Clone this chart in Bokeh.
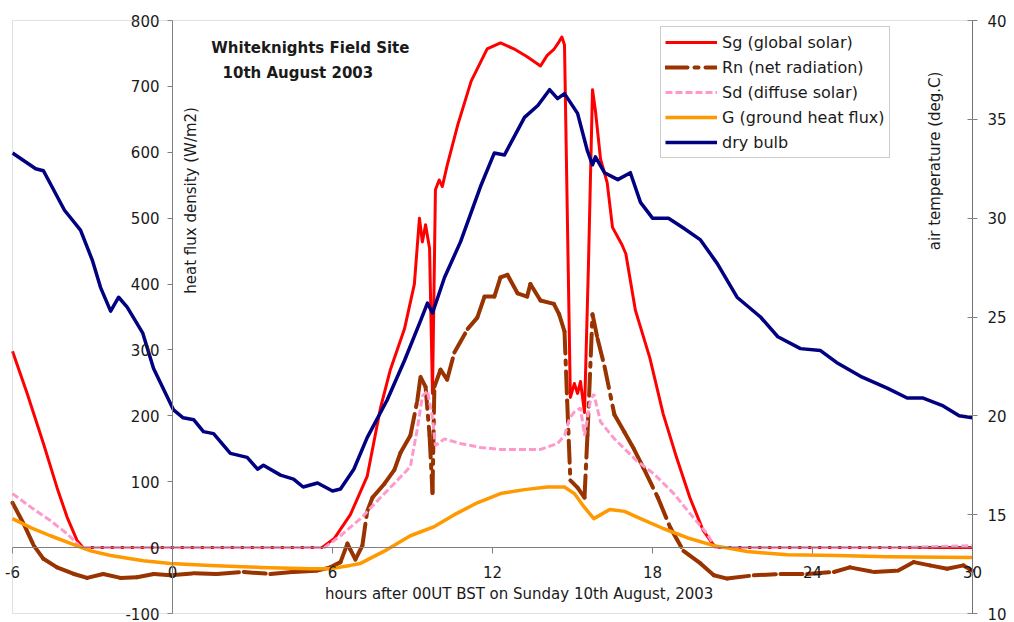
import math
from bokeh.plotting import figure
from bokeh.models import LinearAxis, Range1d, FixedTicker, Legend, LegendItem, Label, BoxAnnotation
from bokeh.embed import file_html
from bokeh.resources import INLINE

# ---------------- data ----------------
sg_h = [-6, -5.45, -4.84, -4.33, -3.95, -3.58, -3.35, 0, 3, 5.6, 6.07, 6.67, 7.3, 7.55, 7.8, 8.17, 8.7,
        9.07, 9.26, 9.37, 9.49, 9.64, 9.75, 9.86, 10.0, 10.12, 10.3, 10.7, 11.2, 11.8, 12.3, 12.8, 13.3,
        13.8, 14.05, 14.3, 14.5, 14.6, 14.7, 14.92, 15.07, 15.19, 15.3, 15.45, 15.6, 15.75, 15.86, 16.05,
        16.3, 16.5, 16.85, 17.0, 17.36, 17.9, 18.4, 18.9, 19.4, 19.9, 20.25, 20.4, 24, 27, 30]
sg_v = [298, 234, 158, 91, 46, 11, 0, 0, 0, 0, 14, 50, 108, 160, 212, 270, 332,
        400, 500, 464, 490, 454, 234, 543, 558, 548, 580, 642, 708, 757, 766, 757, 745,
        731, 747, 756, 768, 775, 763, 228, 249, 234, 252, 205, 432, 695, 663, 590,
        554, 486, 460, 446, 360, 288, 203, 137, 76, 26, 6, 0, 0, 0, 0]

rn_h = [-6, -5.58, -5.2, -4.84, -4.33, -3.7, -3.2, -2.6, -1.95, -1.33, -0.7, -0.08, 0.8, 1.67, 2.67,
        3.67, 4.54, 5.43, 5.92, 6.3, 6.56, 6.67, 6.86, 7.12, 7.3, 7.5, 7.95, 8.32, 8.55, 8.92, 9.18, 9.3,
        9.49, 9.64, 9.75, 9.82, 10.05, 10.3, 10.57, 11.07, 11.43, 11.7, 12.07, 12.3, 12.56, 12.94, 13.3,
        13.42, 13.8, 14.3, 14.5, 14.7, 14.8, 14.92, 15.19, 15.45, 15.56, 15.75, 15.94, 16.2, 16.57, 16.95,
        17.3, 17.66, 18.2, 18.67, 19.16, 19.8, 20.3, 20.8, 21.8, 22.8, 23.8, 24.8, 25.4, 26.3, 27.2, 27.8,
        28.4, 29.05, 29.66, 30]
rn_v = [68, 36, 3, -17, -30, -40, -46, -40, -46, -45, -40, -42, -39, -40, -37,
        -40, -37, -35, -30, -22, 6, -3, -18, 3, 55, 76, 97, 118, 144, 170, 223, 259,
        244, 170, 83, 244, 270, 255, 296, 332, 349, 381, 381, 410, 414, 386, 381,
        400, 375, 370, 354, 328, 223, 102, 91, 76, 170, 354, 317, 275, 202, 175,
        150, 121, 76, 30, -5, -24, -42, -47, -42, -40, -40, -37, -30, -37, -35, -22,
        -27, -32, -27, -35]

sd_h = [-6, -5.3, -4.58, -3.95, -3.5, -3.4, 0, 3, 5.7, 6.3, 7.05, 7.8, 8.43, 8.92, 9.18, 9.37, 9.56,
        9.75, 9.86, 10.2, 10.8, 11.55, 12.3, 13.05, 13.8, 14.44, 14.7, 14.9, 15.07, 15.3, 15.45, 15.67,
        15.8, 16.05, 16.57, 17.0, 17.4, 18.05, 18.8, 19.4, 20.05, 20.35, 24, 27, 30]
sd_v = [82, 61, 41, 21, 3, 0, 0, 0, 0, 18, 44, 76, 102, 123, 180, 230, 238,
        197, 155, 165, 158, 152, 149, 149, 149, 158, 170, 197, 206, 212, 170, 223,
        233, 191, 165, 148, 132, 112, 82, 52, 21, 0, 0, 0, 3]

g_h = [-6, -5.3, -4.58, -3.8, -3.07, -2.32, -1.09, -0.08, 1.42, 3.3, 5.17, 5.9, 6.67, 7.05, 8.05,
       8.92, 9.82, 10.57, 11.43, 12.3, 13.2, 14.06, 14.7, 15.07, 15.45, 15.8, 16.4, 16.95, 17.55, 18.4,
       19.3, 20.3, 21.55, 23.05, 24.9, 26.8, 30]
g_v = [44, 30, 18, 6, -5, -12, -20, -24, -27, -30, -32, -32, -27, -24, -3,
       18, 32, 50, 68, 82, 88, 92, 92, 82, 61, 44, 58, 55, 44, 29,
       15, 3, -6, -11, -12, -14, -15]

db_h = [-6, -5.13, -4.84, -4.05, -3.45, -3.0, -2.7, -2.32, -2.02, -1.7, -1.12, -0.71, 0.04, 0.4, 0.8,
        1.16, 1.54, 2.17, 2.8, 3.19, 3.41, 4.05, 4.54, 4.9, 5.44, 6.0, 6.3, 6.8, 7.3, 8.05, 8.7, 9.3,
        9.56, 9.75, 10.2, 10.8, 11.55, 12.07, 12.45, 13.2, 13.7, 14.14, 14.44, 14.7, 15.19, 15.56, 15.75,
        15.86, 16.2, 16.7, 17.17, 17.55, 18.0, 18.6, 19.16, 19.8, 20.43, 21.17, 22.05, 22.7, 23.55, 24.3,
        24.9, 25.8, 26.8, 27.55, 28.15, 28.9, 29.5, 30]
db_t = [33.3, 32.5, 32.4, 30.4, 29.4, 27.85, 26.5, 25.3, 26.0, 25.5, 24.2, 22.4, 20.3, 19.9, 19.8,
        19.2, 19.1, 18.1, 17.9, 17.3, 17.5, 17.0, 16.8, 16.4, 16.6, 16.2, 16.3, 17.3, 18.9, 20.8, 22.8, 24.8,
        25.7, 25.2, 27.0, 28.8, 31.6, 33.3, 33.2, 35.1, 35.7, 36.5, 36.05, 36.3, 35.3, 33.4, 32.7,
        33.1, 32.3, 31.95, 32.3, 30.8, 30.0, 30.0, 29.5, 28.9, 27.7, 26.0, 25.0, 24.0, 23.4, 23.3,
        22.7, 22.0, 21.4, 20.9, 20.9, 20.5, 20.0, 19.9]

x_ticks = [-6, 0, 6, 12, 18, 24, 30]
y_ticks = [-100, 0, 100, 200, 300, 400, 500, 600, 700, 800]
t_ticks = [10, 15, 20, 25, 30, 35, 40]

labels = ["Sg (global solar)", "Rn (net radiation)", "Sd (diffuse solar)",
          "G (ground heat flux)", "dry bulb"]
colors = ["#ff0000", "#993300", "#ff99cc", "#ff9900", "#000080"]

FONT = "DejaVu Sans"
TXT = "#1a1a1a"

# plot area of the reference: hours -6..30, W/m2 -100..800, deg C 10..40
XMIN, XMAX = x_ticks[0], x_ticks[-1]
YMIN, YMAX = y_ticks[0], y_ticks[-1]
TMIN, TMAX = t_ticks[0], t_ticks[-1]
W, H = 1014, 622
L_PX, R_PX, T_PX, B_PX = 12, 972, 20, 613   # where the plot area sits on the page
xs = (XMAX - XMIN) / (R_PX - L_PX)
ys = (YMAX - YMIN) / (B_PX - T_PX)
ts = (TMAX - TMIN) / (B_PX - T_PX)

# frame covers the whole page so that edge tick labels are not clipped
p = figure(width=W, height=H,
           x_range=Range1d(XMIN - L_PX * xs, XMAX + (W - R_PX) * xs),
           y_range=Range1d(YMIN - (H - B_PX) * ys, YMAX + T_PX * ys),
           output_backend="svg", toolbar_location=None,
           x_axis_location=None, y_axis_location=None,
           min_border_left=0, min_border_right=0, min_border_top=0, min_border_bottom=0)
p.extra_y_ranges = {"temp": Range1d(TMIN - (H - B_PX) * ts, TMAX + T_PX * ts)}
for g in p.grid:
    g.visible = False
p.outline_line_color = None
p.background_fill_color = "white"
p.border_fill_color = "white"

p.add_layout(BoxAnnotation(left=XMIN, right=XMAX, bottom=YMIN, top=YMAX,
                           fill_alpha=0, line_color="#9a9a9a", line_width=1))

def style_axis(ax, ticks):
    ax.major_label_text_font = FONT
    ax.major_label_text_font_size = "15px"
    ax.major_label_text_color = TXT
    ax.minor_tick_line_color = None
    ax.axis_line_color = "#808080"
    ax.major_tick_line_color = "#808080"
    ax.major_label_overrides = {t: str(t) for t in ticks}

yax = LinearAxis(fixed_location=0, ticker=FixedTicker(ticks=y_ticks), bounds=(YMIN, YMAX))
style_axis(yax, y_ticks)
yax.major_tick_out = 5
yax.major_tick_in = 0
yax.major_label_standoff = 8
p.add_layout(yax, "left")

xax = LinearAxis(fixed_location=0, ticker=FixedTicker(ticks=x_ticks), bounds=(XMIN, XMAX))
style_axis(xax, x_ticks)
xax.major_tick_out = 6
xax.major_tick_in = 0
xax.major_label_standoff = 12
p.add_layout(xax, "below")

rax = LinearAxis(y_range_name="temp", fixed_location=XMAX, ticker=FixedTicker(ticks=t_ticks),
                 bounds=(TMIN, TMAX))
style_axis(rax, t_ticks)
rax.axis_line_color = "#606060"
rax.major_tick_out = 5
rax.major_tick_in = 5
rax.major_label_standoff = 10
p.add_layout(rax, "right")

# ---------------- series ----------------
r_sg = p.line(sg_h, sg_v, line_color=colors[0], line_width=3, line_join="round")
r_rn = p.segment(x0=rn_h[:-1], y0=rn_v[:-1], x1=rn_h[1:], y1=rn_v[1:],
                 line_color=colors[1], line_width=4, line_dash="22 7 4 7", line_cap="round")
r_sd = p.line(sd_h, sd_v, line_color=colors[2], line_width=3, line_dash="7 3")
r_g = p.line(g_h, g_v, line_color=colors[3], line_width=3.5, line_join="round")
r_db = p.line(db_h, db_t, y_range_name="temp", line_color=colors[4], line_width=3.5, line_join="round")

legend = Legend(items=[LegendItem(label=l, renderers=[r]) for l, r in
                       zip(labels, [r_sg, r_rn, r_sd, r_g, r_db])],
                location=(660, H - 158))
legend.label_text_font = FONT
legend.label_text_font_size = "16px"
legend.label_text_color = TXT
legend.glyph_width = 52
legend.glyph_height = 22
legend.label_height = 22
legend.spacing = 3
legend.padding = 4
legend.margin = 0
legend.label_standoff = 5
legend.border_line_color = "#9a9a9a"
legend.background_fill_alpha = 1
p.add_layout(legend, "center")

# ---------------- texts ----------------
p.add_layout(Label(x=5.17, y=759, text="Whiteknights Field Site", text_align="center",
                   text_baseline="middle", text_font=FONT, text_font_size="15px",
                   text_font_style="bold", text_color=TXT))
p.add_layout(Label(x=4.8, y=721, text="10th  August 2003", text_align="center",
                   text_baseline="middle", text_font=FONT, text_font_size="15px",
                   text_font_style="bold", text_color=TXT))
p.add_layout(Label(x=0.7, y=527, text="heat flux density (W/m2)", angle=math.pi / 2,
                   text_align="center", text_baseline="middle", text_font=FONT,
                   text_font_size="15px", text_color=TXT))
p.add_layout(Label(x=28.6, y=587, text="air temperature (deg.C)", angle=math.pi / 2,
                   text_align="center", text_baseline="middle", text_font=FONT,
                   text_font_size="15px", text_color=TXT))
p.add_layout(Label(x=13.0, y=-70, text="hours after 00UT BST on Sunday 10th August, 2003",
                   text_align="center", text_baseline="middle", text_font=FONT,
                   text_font_size="15px", text_color=TXT))

open("out.html", "w").write(file_html(p, INLINE))
